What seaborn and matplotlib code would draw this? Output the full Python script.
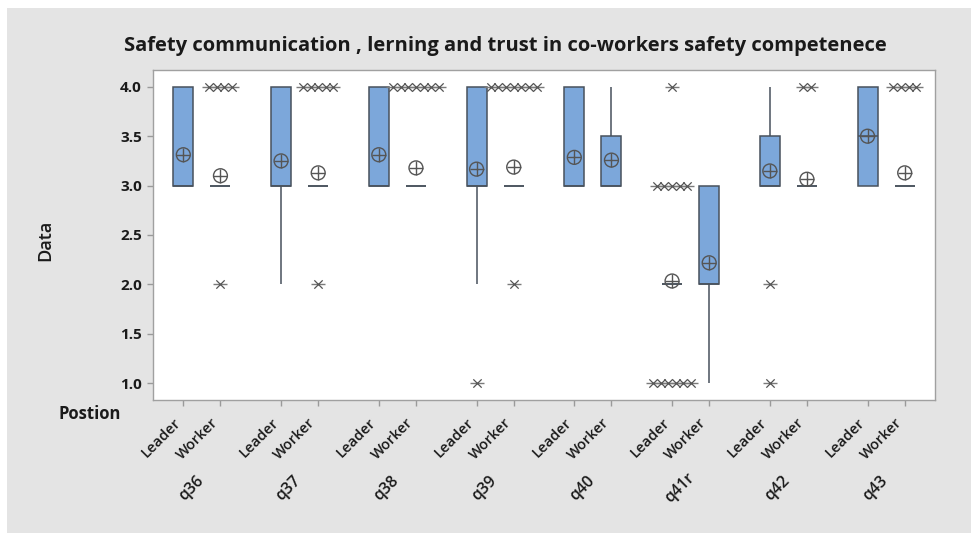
import numpy as np
import pandas as pd
import seaborn as sns
import matplotlib.pyplot as plt
from matplotlib import cbook
from matplotlib.patches import Rectangle
from matplotlib.transforms import blended_transform_factory

# Survey items and respondent groups
questions = ["q36", "q37", "q38", "q39", "q40", "q41r", "q42", "q43"]
positions = ["Leader", "Worker"]
scores = [1, 2, 3, 4]

# Number of answers per score (1, 2, 3, 4) for each item
leader_counts = [
    [0, 0, 11, 5],
    [0, 1, 10, 5],
    [0, 0, 11, 5],
    [1, 1, 10, 6],
    [0, 0, 15, 6],
    [6, 17, 5, 1],
    [1, 1, 18, 7],
    [0, 0, 8, 8],
]
worker_counts = [
    [0, 1, 25, 4],
    [0, 1, 25, 5],
    [0, 0, 32, 7],
    [0, 1, 24, 7],
    [0, 0, 23, 8],
    [3, 19, 10, 0],
    [0, 0, 29, 2],
    [0, 0, 27, 4],
]

title = "Safety communication , lerning and trust in co-workers safety competenece"
y_ticks = [1.0, 1.5, 2.0, 2.5, 3.0, 3.5, 4.0]

# Long-format table of individual answers
rows = []
for pos, counts in zip(positions, [leader_counts, worker_counts]):
    for q, cnt in zip(questions, counts):
        for s, c in zip(scores, cnt):
            rows += [{"Question": q, "Position": pos, "Score": s}] * c
df = pd.DataFrame(rows)

sns.set_theme(style="white")
plt.rcParams["font.family"] = ["Open Sans", "DejaVu Sans"]

W, H = 971, 533
fig = plt.figure(figsize=(W / 100, H / 100), dpi=100, facecolor="white")
fig.patches.append(Rectangle((7 / W, 0), 1, 1 - 8 / H, transform=fig.transFigure,
                             facecolor="#e4e4e4", edgecolor="none", zorder=-10))

ax = fig.add_axes([153 / W, 1 - 400 / H, (935 - 153) / W, (400 - 70) / H])
ax.set_facecolor("white")

box_blue = "#7ca7da"
edge = "#48515c"
width, gap = 0.76, 0.46

sns.boxplot(data=df, x="Question", y="Score", hue="Position",
            order=questions, hue_order=positions,
            palette={"Leader": box_blue, "Worker": box_blue}, saturation=1,
            width=width, gap=gap, whis=1.5, dodge=True,
            showfliers=False, showcaps=False,
            linecolor=edge, linewidth=1.1, legend=False, ax=ax)

# Outliers (side by side when tied) and mean symbols
slot = width / 2
offsets = {"Leader": -slot / 2, "Worker": slot / 2}
step = 0.078
for i, q in enumerate(questions):
    for pos in positions:
        vals = df.loc[(df.Question == q) & (df.Position == pos), "Score"].to_numpy()
        st = cbook.boxplot_stats(vals, whis=1.5)[0]
        xc = i + offsets[pos]
        fl = np.asarray(st["fliers"])
        for v in np.unique(fl):
            c = int((fl == v).sum())
            xs = xc + (np.arange(c) - (c - 1) / 2) * step
            ax.scatter(xs, [v] * c, marker="_", s=90, color="#7a7a7a", linewidths=1.0, zorder=4)
            ax.scatter(xs, [v] * c, marker="x", s=36, color="#555555", linewidths=0.9, zorder=5)
        ax.scatter([xc], [st["mean"]], marker="o", s=100, facecolors="none",
                   edgecolors="#555555", linewidths=1.0, zorder=6)
        ax.scatter([xc], [st["mean"]], marker="+", s=100, color="#555555",
                   linewidths=1.0, zorder=6)

ax.set_xlim(-0.5, len(questions) - 0.5)
ax.set_ylim(0.83, 4.17)
ax.set_yticks(y_ticks)
ax.set_yticklabels([f"{t:.1f}" for t in y_ticks], fontsize=11, fontweight="bold",
                   color="#1a1a1a")

xt, xl = [], []
for i in range(len(questions)):
    for pos in positions:
        xt.append(i + offsets[pos])
        xl.append(pos)
ax.set_xticks(xt)
ax.set_xticklabels(xl, rotation=45, ha="right", fontsize=10.5, color="#1a1a1a",
                   fontweight="semibold")
ax.tick_params(axis="both", bottom=True, left=True, length=4, width=1,
               color="#9a9a9a", pad=4)
ax.tick_params(axis="x", pad=7)

for sp in ax.spines.values():
    sp.set_color("#a0a0a0")
    sp.set_linewidth(1)

ax.set_xlabel("")
ax.set_ylabel("")

trans = blended_transform_factory(ax.transData, ax.transAxes)
for i, q in enumerate(questions):
    ax.text(i - 0.11, -0.267, q, transform=trans, rotation=45, ha="center", va="center",
            fontsize=11.5, fontweight="semibold", color="#1a1a1a")

fig.text(90 / W, 1 - 414 / H, "Postion", ha="center", va="center", fontsize=12,
         fontweight="bold", color="#1a1a1a")
fig.text(45 / W, 1 - 240 / H, "Data", ha="center", va="center", rotation=90,
         fontsize=13, fontweight="semibold", color="#1a1a1a")
fig.text(505 / W, 1 - 46 / H, title, ha="center", va="center", fontsize=14.5,
         fontweight="bold", color="#1a1a1a")

fig.savefig("out.png", dpi=100, facecolor=fig.get_facecolor())
